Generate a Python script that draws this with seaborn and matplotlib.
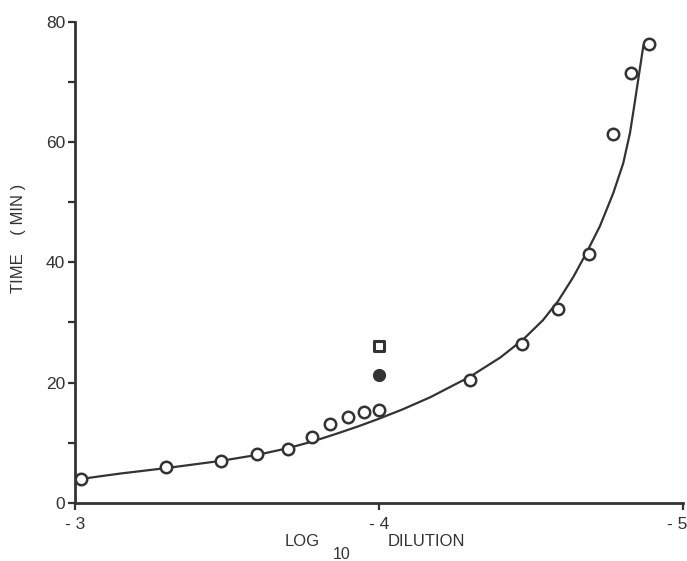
import matplotlib
matplotlib.use("Agg")
import matplotlib.pyplot as plt
import matplotlib.transforms as mtransforms
import seaborn as sns
import pandas as pd

# Measured clotting times (open circles)
log_dilution = [-3.02, -3.30, -3.48, -3.60, -3.70, -3.78, -3.84, -3.90, -3.95, -4.00,
                -4.30, -4.47, -4.59, -4.69, -4.77, -4.83, -4.89]
time_min = [4.0, 6.0, 7.0, 8.1, 9.0, 11.0, 13.1, 14.3, 15.2, 15.5,
            20.5, 26.4, 32.3, 41.4, 61.4, 71.4, 76.3]

# Single extra observations at 10^-4
filled_x, filled_y = [-4.00], [21.2]
square_x, square_y = [-4.00], [26.1]

# Hand-fitted curve through the series
curve_x = [-3.02, -3.15, -3.30, -3.48, -3.60, -3.70, -3.78, -3.86, -3.93, -4.00,
           -4.08, -4.17, -4.30, -4.40, -4.475, -4.54, -4.59, -4.64, -4.683, -4.727,
           -4.771, -4.804, -4.826, -4.840, -4.855, -4.870]
curve_y = [4.0, 4.9, 5.8, 7.0, 8.0, 9.1, 10.2, 11.5, 12.7, 14.0,
           15.6, 17.6, 21.0, 24.2, 27.2, 30.4, 33.6, 37.6, 41.6, 46.0,
           51.5, 56.5, 61.5, 66.0, 71.0, 76.0]

y_major = [0, 20, 40, 60, 80]
y_minor = [10, 30, 50, 70]
x_ticks = [-3, -4, -5]
x_tick_labels = ["- 3", "- 4", "- 5"]

ink = "#333333"
sns.set_style("ticks")
plt.rcParams["font.family"] = ["Liberation Sans", "DejaVu Sans"]

fig = plt.figure(figsize=(6.87, 5.61), dpi=100)
ax = fig.add_axes([0.109, 0.1034, 0.885, 0.858])

curve = pd.DataFrame({"x": curve_x, "y": curve_y})
pts = pd.DataFrame({"x": log_dilution, "y": time_min})

sns.lineplot(data=curve, x="x", y="y", sort=False, estimator=None, ax=ax,
             color=ink, linewidth=1.6, zorder=2)
sns.scatterplot(data=pts, x="x", y="y", ax=ax, marker="o", s=68,
                facecolor="white", edgecolor=ink, linewidth=1.8, zorder=3)
sns.scatterplot(x=filled_x, y=filled_y, ax=ax, marker="o", s=72,
                color=ink, edgecolor=ink, linewidth=1.0, zorder=3)
sns.scatterplot(x=square_x, y=square_y, ax=ax, marker="s", s=48,
                facecolor="white", edgecolor=ink, linewidth=2.2, zorder=3)

ax.set_xlim(-3, -5)
ax.set_ylim(0, 80)
ax.set_xticks(x_ticks)
ax.set_xticklabels(x_tick_labels)
ax.set_yticks(y_major)
ax.set_yticks(y_minor, minor=True)
ax.set_xlabel("")
ax.set_ylabel("")

for side in ("top", "right"):
    ax.spines[side].set_visible(False)
for side in ("left", "bottom"):
    ax.spines[side].set_color(ink)
    ax.spines[side].set_linewidth(2.0)

ax.tick_params(axis="both", which="both", colors=ink, width=1.6, length=5,
               labelsize=12.5, labelcolor=ink)
ax.tick_params(axis="y", which="major", pad=2)
ax.tick_params(axis="x", which="major", pad=5)

# Keep the last x label inside the figure edge
last = ax.get_xticklabels()[-1]
last.set_horizontalalignment("right")
last.set_transform(last.get_transform() +
                   mtransforms.ScaledTranslation(4 / 100, 0, fig.dpi_scale_trans))

# Axis titles
fig.text(0.027, 0.575, "TIME    ( MIN )", rotation=90, ha="center", va="center",
         fontsize=12, color=ink)
fig.text(0.44, 0.035, "LOG", ha="center", va="center", fontsize=12, color=ink)
fig.text(0.497, 0.011, "10", ha="center", va="center", fontsize=11.5, color=ink)
fig.text(0.62, 0.035, "DILUTION", ha="center", va="center", fontsize=12, color=ink)

fig.savefig("out.png", dpi=100, facecolor="white")
